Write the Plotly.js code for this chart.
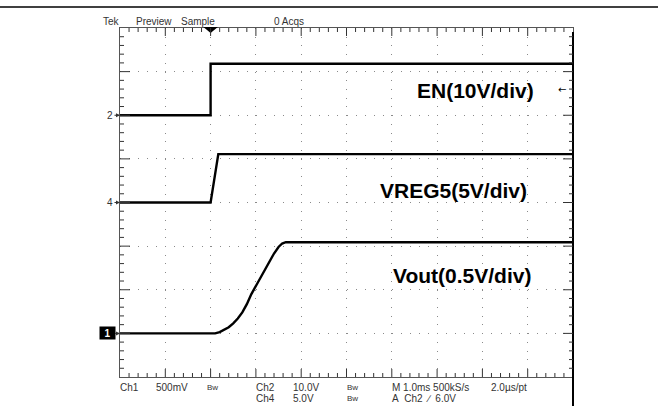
<!DOCTYPE html>
<html>
<head>
<meta charset="utf-8">
<script src="https://cdn.plot.ly/plotly-3.0.1.min.js"></script>
<style>html,body{margin:0;padding:0;background:#fff;}#chart{width:663px;height:406px;}</style>
</head>
<body>
<div id="chart"></div>
<script>
// ---- data (time in ms relative to trigger, 1 ms/div; voltages in V) ----
const enTime    = [-2, 0, 0, 8];
const enVolt    = [0, 0, 11.8, 11.8];
const vregTime  = [-2, 0, 0.17, 8];
const vregVolt  = [0, 0, 5.55, 5.55];
const voutTime  = [-2, 0.10, 0.20, 0.30, 0.40, 0.50, 0.60, 0.70, 0.80, 0.90, 1.00, 1.10, 1.20, 1.30, 1.40, 1.50, 1.58, 1.66, 8];
const voutVolt  = [0, 0, 0.015, 0.04, 0.07, 0.115, 0.17, 0.24, 0.335, 0.45, 0.545, 0.64, 0.735, 0.83, 0.915, 0.99, 1.03, 1.045, 1.045];

// channel settings: volts per division and ground position (divisions from centre)
const chEN   = {name: 'EN(10V/div)',     vdiv: 10,  gnd: 2,  id: '2'};
const chVREG = {name: 'VREG5(5V/div)',   vdiv: 5,   gnd: 0,  id: '4'};
const chVOUT = {name: 'Vout(0.5V/div)',  vdiv: 0.5, gnd: -3, id: '1'};
const triggerLevelV = 6.0;

const topTexts = ['Tek', 'Preview', 'Sample', '0 Acqs'];
const bottomRow1 = ['Ch1', '500mV', 'Bw', 'Ch2', '10.0V', 'Bw', 'M 1.0ms 500kS/s', '2.0\u00b5s/pt'];
const bottomRow2 = ['Ch4', '5.0V', 'Bw', 'A\u00a0\u00a0Ch2\u00a0\u00a0\u2215\u00a0\u00a06.0V'];

// ---- layout helpers ----
const W = 663, H = 406, L = 120, R = 573, T = 28, B = 377;
const px = x => (x - L) / (R - L);
const py = y => (B - y) / (B - T);
const toDiv = (v, ch) => v.map(val => val / ch.vdiv + ch.gnd);

const trace = (t, v, ch) => ({
  x: t, y: toDiv(v, ch), type: 'scatter', mode: 'lines',
  line: {color: '#000', width: 2.4}, hoverinfo: 'skip', showlegend: false
});
const data = [trace(enTime, enVolt, chEN), trace(vregTime, vregVolt, chVREG), trace(voutTime, voutVolt, chVOUT)];

const smallFont = {family: 'Arial, Liberation Sans, sans-serif', size: 10, color: '#333'};
const bwFont = {family: 'Arial, Liberation Sans, sans-serif', size: 8, color: '#333'};
const bigFont = {family: 'Liberation Sans, Arial, sans-serif', size: 21, color: '#000', weight: 'bold'};
const ann = [];
const topX = [101, 134, 179, 272];
topTexts.forEach((t, i) => ann.push({text: t, xref: 'paper', yref: 'paper', x: px(topX[i]), y: py(21), xanchor: 'left', yanchor: 'middle', showarrow: false, font: smallFont}));
const row1X = [118, 154, 205, 254, 291, 345, 390, 489];
bottomRow1.forEach((t, i) => ann.push({text: t, xref: 'paper', yref: 'paper', x: px(row1X[i]), y: py(387), xanchor: 'left', yanchor: 'middle', showarrow: false, font: t === 'Bw' ? bwFont : smallFont}));
const row2X = [254, 291, 345, 390];
bottomRow2.forEach((t, i) => ann.push({text: t, xref: 'paper', yref: 'paper', x: px(row2X[i]), y: py(398), xanchor: 'left', yanchor: 'middle', showarrow: false, font: t === 'Bw' ? bwFont : smallFont}));

// big channel labels
ann.push({text: chEN.name,   xref: 'paper', yref: 'paper', x: px(475), y: py(90),  xanchor: 'center', yanchor: 'middle', showarrow: false, font: bigFont});
ann.push({text: chVREG.name, xref: 'paper', yref: 'paper', x: px(453), y: py(190), xanchor: 'center', yanchor: 'middle', showarrow: false, font: bigFont});
ann.push({text: chVOUT.name, xref: 'paper', yref: 'paper', x: px(462), y: py(275), xanchor: 'center', yanchor: 'middle', showarrow: false, font: bigFont});

// ground markers
[chEN, chVREG].forEach(ch => ann.push({text: ch.id, xref: 'paper', yref: 'y', x: 0, y: ch.gnd, ax: -10, ay: 0,
  showarrow: true, arrowhead: 2, arrowsize: 0.8, arrowwidth: 1, arrowcolor: '#333', font: smallFont}));
ann.push({text: '<b>' + chVOUT.id + '</b>', xref: 'paper', yref: 'y', x: 0, y: chVOUT.gnd, ax: -13, ay: 0,
  showarrow: true, arrowhead: 2, arrowsize: 0.8, arrowwidth: 1, arrowcolor: '#333', bgcolor: '#000', width: 13, height: 10,
  font: {family: 'Arial, Liberation Sans, sans-serif', size: 10, color: '#fff'}, borderpad: 1});
// trigger level marker
ann.push({text: '\u2190', xref: 'paper', yref: 'y', x: px(562), y: triggerLevelV / chEN.vdiv + chEN.gnd,
  xanchor: 'center', yanchor: 'middle', showarrow: false, font: {family: 'DejaVu Sans, sans-serif', size: 10, color: '#000'}});

const shapes = [
  {type: 'line', xref: 'paper', yref: 'paper', x0: px(0), x1: px(658), y0: py(7), y1: py(7), line: {color: '#000', width: 1.5}},
  {type: 'line', xref: 'paper', yref: 'paper', x0: 1, x1: 1, y0: py(406), y1: py(32), line: {color: '#000', width: 2}},
  // trigger position marker
  {type: 'path', xref: 'x', yref: 'paper', path: `M ${-0.16},${py(27)} L ${0.16},${py(27)} L 0,${py(33)} Z`, fillcolor: '#000', line: {width: 0}}
];
// graticule border ticks (every 1/5 division, longer at each division)
const xMin = -2, xMax = 8, yMin = -4, yMax = 4;
for (let k = 1; k < 50; k++) {
  const xv = xMin + k * 0.2;
  const len = (k % 5 === 0) ? 8 : 4;
  shapes.push({type: 'line', xref: 'x', yref: 'paper', x0: xv, x1: xv, y0: 1, y1: 1 - len / (B - T), line: {color: '#333', width: 1}});
  shapes.push({type: 'line', xref: 'x', yref: 'paper', x0: xv, x1: xv, y0: 0, y1: len / (B - T), line: {color: '#333', width: 1}});
}
for (let k = 1; k < 40; k++) {
  const yv = yMin + k * 0.2;
  const len = (k % 5 === 0) ? 10 : 4;
  shapes.push({type: 'line', xref: 'paper', yref: 'y', x0: 0, x1: len / (R - L), y0: yv, y1: yv, line: {color: '#333', width: 1}});
  shapes.push({type: 'line', xref: 'paper', yref: 'y', x0: 1, x1: 1 - len / (R - L), y0: yv, y1: yv, line: {color: '#333', width: 1}});
}

const axisCommon = {
  showticklabels: false, zeroline: false, showgrid: true, gridcolor: '#8a8a8a', gridwidth: 1,
  showline: true, linecolor: '#555', linewidth: 1.3, mirror: true, ticks: '', fixedrange: true
};
const layout = {
  width: W, height: H,
  margin: {l: L, r: W - R, t: T, b: H - B, pad: 0},
  paper_bgcolor: '#fff', plot_bgcolor: '#fff', showlegend: false,
  xaxis: Object.assign({}, axisCommon, {range: [xMin, xMax], tick0: xMin, dtick: 1, griddash: '1px,7.72px'}),
  yaxis: Object.assign({}, axisCommon, {range: [yMin, yMax], tick0: yMin, dtick: 1, griddash: '1px,8.06px'}),
  annotations: ann, shapes: shapes
};
Plotly.newPlot('chart', data, layout, {displayModeBar: false, staticPlot: true});
</script>
</body>
</html>
